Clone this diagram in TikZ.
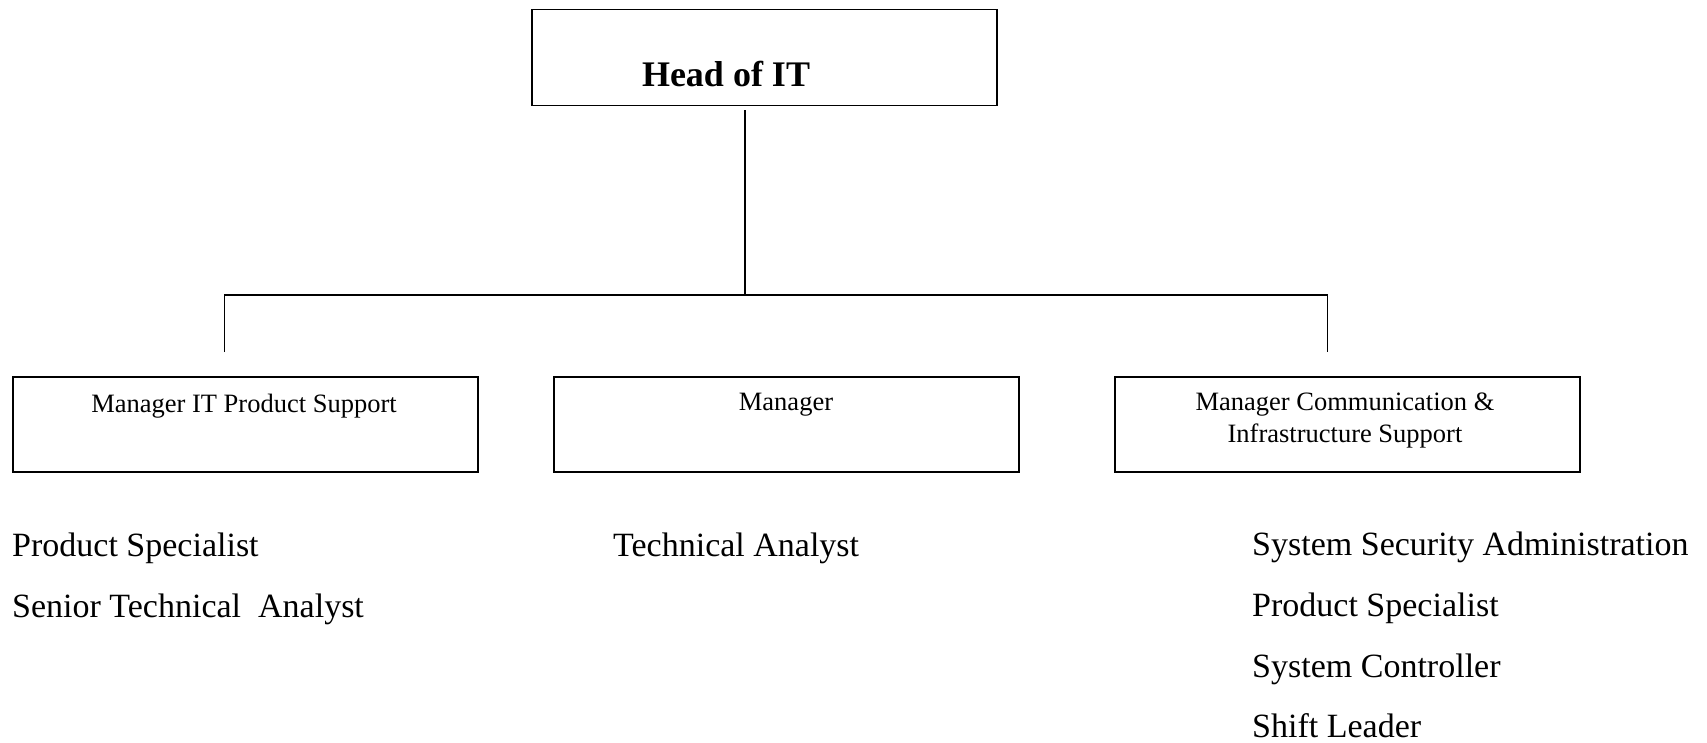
\documentclass[tikz,border=0pt]{standalone}
\usepackage{fontspec}
\setmainfont{Liberation Serif}
\usetikzlibrary{calc}
\begin{document}
\begin{tikzpicture}[x=1pt,y=1pt,
  box/.style={draw, line width=1.5pt, minimum width=465pt, minimum height=95pt, inner sep=0pt, anchor=north west},
  conn/.style={line width=1.3pt},
  boxtext/.style={font=\fontsize{26.5}{32}\selectfont, anchor=base, inner sep=0pt, align=center},
  headtext/.style={font=\bfseries\fontsize{36}{42}\selectfont, anchor=base, inner sep=0pt},
  role/.style={font=\fontsize{34}{40}\selectfont, anchor=base west, inner sep=0pt}]
\useasboundingbox (0,0) rectangle (1707,-743);
% boxes
\node[box, minimum height=96pt] (head) at (531,-9) {};
\node[headtext] (headt) at (726,-87) {Head of IT};
\node[box] (m1) at (12,-376) {};
\node[boxtext] (m1t) at (244,-412) {Manager IT Product Support};
\node[box] (m2) at (553,-376) {};
\node[boxtext] (m2t) at (786,-410) {Manager};
\node[box] (m3) at (1114,-376) {};
\node[boxtext] (m3t) at (1345,-442) {Manager Communication \&\\Infrastructure Support};
% connectors
\coordinate (hub) at (745,-295);
\coordinate (lj) at ($(m1.north)+(-21,24)$);
\coordinate (rj) at ($(m3.north)+(-20,24)$);
\draw[conn] ($(head.south -| hub)+(0,-4)$) -- (hub);
\draw[conn] (lj) -- (lj |- hub) -- (rj |- hub) -- (rj);
% roles
\node[role] (r1) at (12,-556) {Product Specialist};
\node[role] (r2) at (12,-617) {Senior Technical\ \ Analyst};
\node[role] (r3) at (613,-556) {Technical Analyst};
\node[role] (r4) at (1252,-555) {System Security Administration};
\node[role] (r5) at (1252,-616) {Product Specialist};
\node[role] (r6) at (1252,-677) {System Controller};
\node[role] (r7) at (1252,-737) {Shift Leader};
\end{tikzpicture}
\end{document}
